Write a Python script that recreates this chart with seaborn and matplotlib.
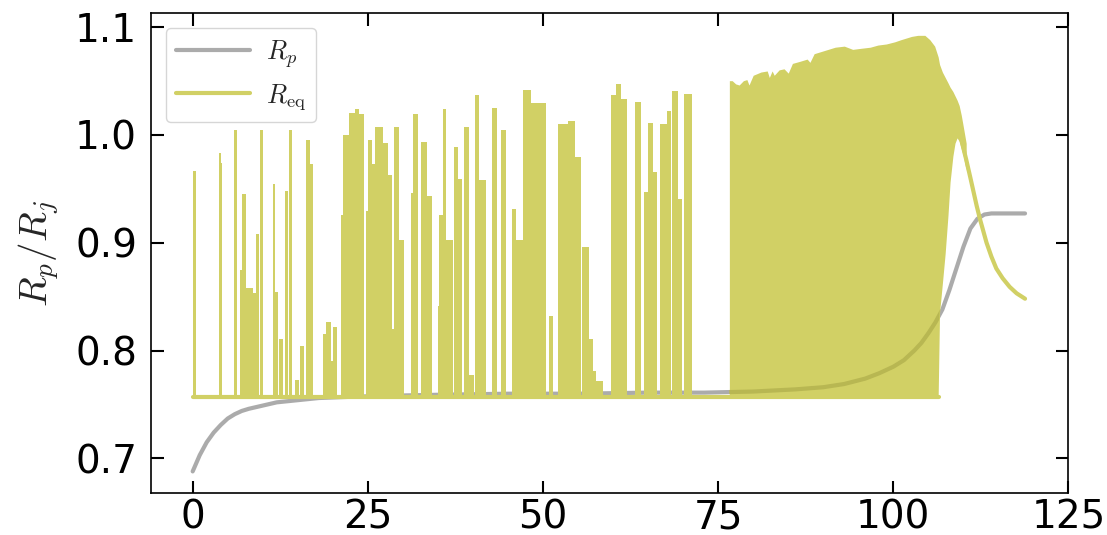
import matplotlib
matplotlib.use("Agg")
import matplotlib.pyplot as plt
import seaborn as sns
import numpy as np
import pandas as pd

# ---------------- data ----------------
# R_p (grey curve)
rp_x = [0, 1, 2, 3, 4, 5, 6, 7, 8, 10, 12, 15, 18, 22, 27, 35, 45, 55, 65, 73, 80,
        86, 90, 93, 96, 98, 100, 101.5, 103, 104, 105, 106, 107, 108, 109, 110,
        111, 112, 113, 114, 116, 118.8]
rp_y = [0.688, 0.703, 0.715, 0.724, 0.731, 0.737, 0.741, 0.744, 0.746, 0.749,
        0.752, 0.754, 0.756, 0.757, 0.758, 0.759, 0.760, 0.760, 0.761, 0.761,
        0.762, 0.764, 0.766, 0.769, 0.774, 0.779, 0.785, 0.791, 0.800, 0.807,
        0.816, 0.826, 0.838, 0.856, 0.876, 0.896, 0.913, 0.922, 0.926, 0.927,
        0.927, 0.927]

# R_eq : resting value and bursts (start, end, peak) in the sparse part
req_base = 0.757
burst_x0 = [0.0, 3.7, 4.0, 5.85, 6.8, 7.1, 7.6, 8.6, 9.0, 9.6, 11.5, 11.8, 12.3,
            13.2, 13.7, 14.6, 15.3, 16.2, 16.7,
            18.6, 19.0, 19.8, 20.0, 21.1, 21.4, 22.3, 23.2, 23.8, 24.7, 25.0,
            25.6, 26.0, 27.2, 27.9, 28.5, 28.8, 29.4, 31.2, 31.5, 32.6, 33.4,
            35.0, 35.2, 35.7,
            36.1, 37.3, 37.9, 38.7, 39.4, 40.3, 40.9, 42.7, 44.0, 45.6, 46.2,
            47.2, 48.3, 50.8, 52.1, 53.6, 54.5,
            55.5, 56.6, 57.1, 57.6, 59.7, 60.4, 61.1, 63.2, 64.4, 65.0, 65.7,
            66.7, 67.7, 68.4, 69.3, 70.1]
burst_x1 = [0.45, 4.0, 4.25, 6.3, 7.1, 7.6, 8.6, 9.0, 9.5, 10.05, 11.8, 12.2, 12.9,
            13.6, 14.2, 15.2, 15.9, 16.7, 17.2,
            19.0, 19.8, 20.0, 20.6, 21.4, 22.3, 23.2, 23.8, 24.5, 25.0, 25.6,
            26.0, 27.2, 27.9, 28.5, 28.8, 29.4, 30.2, 31.5, 32.2, 33.4, 34.1,
            35.2, 35.7, 36.1,
            37.2, 37.9, 38.5, 39.4, 40.2, 40.9, 41.8, 43.5, 44.7, 46.2, 47.1,
            48.3, 50.4, 51.4, 53.6, 54.5, 55.4,
            56.6, 57.1, 57.6, 58.5, 60.4, 61.1, 62.0, 64.0, 65.0, 65.7, 66.3,
            67.7, 68.3, 69.3, 69.8, 71.2]
burst_top = [0.966, 0.983, 0.974, 1.004, 0.875, 0.945, 0.858, 0.853, 0.908, 1.004,
             0.954, 0.854, 0.811, 0.948, 1.004, 0.773, 0.804, 0.995, 0.973,
             0.815, 0.826, 0.790, 0.822, 0.926, 1.000, 1.020, 1.024, 1.019, 0.929,
             0.995, 0.973, 1.007, 0.992, 0.963, 0.820, 1.007, 0.902, 0.946, 1.019,
             0.993, 0.943, 0.841, 0.926, 1.024,
             0.902, 0.989, 0.959, 1.007, 0.777, 1.037, 0.958, 1.025, 1.004, 0.931,
             0.902, 1.041, 1.029, 0.832, 1.010, 1.013, 0.979,
             0.896, 0.811, 0.781, 0.772, 1.037, 1.047, 1.033, 1.030, 0.947, 1.011,
             0.965, 1.010, 1.022, 1.040, 0.940, 1.038]
base_end = 106.5

# dense oscillating part: upper and lower envelope
env_x = [76.6, 77.0, 77.5, 78.0, 78.6, 79.1, 79.4, 80.0, 81.1, 82.0, 82.3, 82.7,
         83.0, 83.7, 84.4, 85.0, 85.6, 86.7, 87.7, 88.1, 88.7, 89.7, 90.7, 91.7,
         93.0, 94.2, 95.4, 96.7, 97.8, 99.0, 100.2, 101.1, 102.6, 103.5, 104.5,
         105.2, 105.9, 106.4, 106.6, 107.0, 107.4, 107.8, 108.1, 108.5, 108.8,
         109.1, 109.4, 109.7, 110.0, 110.4]
env_hi = [1.050, 1.050, 1.047, 1.046, 1.050, 1.051, 1.046, 1.055, 1.058, 1.059,
          1.053, 1.059, 1.055, 1.060, 1.061, 1.057, 1.066, 1.068, 1.070, 1.067,
          1.075, 1.077, 1.079, 1.081, 1.082, 1.079, 1.080, 1.081, 1.083, 1.084,
          1.086, 1.088, 1.091, 1.092, 1.092, 1.088, 1.082, 1.072, 1.065, 1.058,
          1.053, 1.048, 1.044, 1.040, 1.036, 1.032, 1.027, 1.018, 1.007, 0.992]
env_lo = [0.757, 0.757, 0.757, 0.757, 0.757, 0.757, 0.757, 0.757, 0.757, 0.757,
          0.757, 0.757, 0.757, 0.757, 0.757, 0.757, 0.757, 0.757, 0.757, 0.757,
          0.757, 0.757, 0.757, 0.757, 0.757, 0.757, 0.757, 0.757, 0.757, 0.757,
          0.757, 0.757, 0.757, 0.757, 0.757, 0.757, 0.757, 0.757, 0.835, 0.862,
          0.890, 0.925, 0.956, 0.980, 0.992, 0.997, 0.994, 0.987, 0.980, 0.967]

# smooth tail of R_eq
tail_x = [109.6, 110.4, 111.0, 111.9, 112.4, 113.3, 114.0, 114.7, 115.6, 116.6,
          117.6, 118.8]
tail_y = [0.998, 0.977, 0.960, 0.934, 0.921, 0.900, 0.887, 0.876, 0.867, 0.859,
          0.853, 0.848]

# ---------------- style ----------------
sns.set_style("white")
plt.rcParams["font.family"] = ["DejaVu Sans"]
plt.rcParams["mathtext.fontset"] = "cm"
plt.rcParams["axes.edgecolor"] = "black"

OLIVE = "#d1d065"
GREY = "#7f7f7f"
GREY_IN_OLIVE = "#b8b752"
LW = 3.0

fig = plt.figure(figsize=(11.07, 5.35), dpi=100)
ax = fig.add_axes([0.1364, 0.0785, 0.9652 - 0.1364, 0.9757 - 0.0785])

# grey R_p curve (underneath)
rp = pd.DataFrame({"x": rp_x, "y": rp_y})
sns.lineplot(data=rp, x="x", y="y", ax=ax, color=GREY, alpha=0.65, lw=LW,
             label="$R_p$", zorder=2)

# sparse bursts of R_eq as a single step outline
sx, sy = [0.0], [req_base]
prev = 0.0
for a, b, t in zip(burst_x0, burst_x1, burst_top):
    if a > prev + 1e-9:
        sx += [prev, a]
        sy += [req_base, req_base]
    sx += [a, b]
    sy += [t, t]
    prev = b
sx += [prev, base_end]
sy += [req_base, req_base]
ax.fill_between(sx, req_base, sy, color=OLIVE, lw=0, zorder=3)

# resting line of R_eq
base_df = pd.DataFrame({"x": [0.0, base_end], "y": [req_base, req_base]})
sns.lineplot(data=base_df, x="x", y="y", ax=ax, color=OLIVE, lw=LW, zorder=3)

# dense oscillation band
dense = ax.fill_between(env_x, env_lo, env_hi, color=OLIVE, lw=0, zorder=3)

# smooth tail
tail = pd.DataFrame({"x": tail_x, "y": tail_y})
sns.lineplot(data=tail, x="x", y="y", ax=ax, color=OLIVE, lw=LW,
             label="$R_{\\rm eq}$", zorder=3, solid_capstyle="round")

# grey curve seen through the translucent band
over = ax.plot(rp_x, rp_y, color=GREY_IN_OLIVE, lw=LW, zorder=4)[0]
over.set_clip_path(dense.get_paths()[0], ax.transData)

# ---------------- axes ----------------
ax.set_xlim(-5.95, 124.95)
ax.set_ylim(0.668, 1.1127)
ax.set_xticks([0, 25, 50, 75, 100, 125])
ax.set_yticks([0.7, 0.8, 0.9, 1.0, 1.1])
ax.tick_params(direction="in", bottom=True, left=True, top=True, right=True,
               length=9, width=1.5, labelsize=28, colors="black")
ax.tick_params(axis="x", pad=4)
ax.tick_params(axis="y", pad=10)
for s in ax.spines.values():
    s.set_linewidth(1.2)
    s.set_color("black")
ax.set_xlabel("")
ax.set_ylabel("$R_p/R_j$", fontsize=28, labelpad=10)

handles, labels = ax.get_legend_handles_labels()
ax.legend(handles, labels, loc="upper left", fontsize=19, handlelength=2.8,
          handletextpad=0.6, labelspacing=0.45, borderaxespad=0.55,
          frameon=True, fancybox=True, framealpha=0.8, edgecolor="0.8")

fig.savefig("out.png", dpi=100)
